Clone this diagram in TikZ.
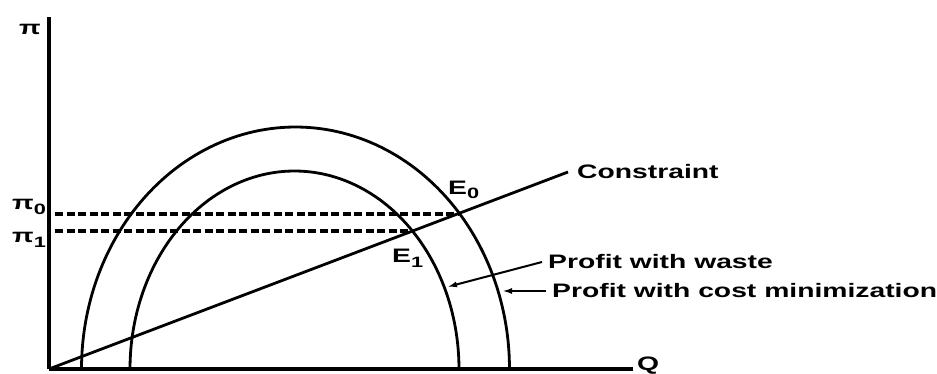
\documentclass[tikz,border=0pt]{standalone}
\usepackage{fontspec}
\setmainfont{Liberation Sans}
\usetikzlibrary{arrows.meta}
\newcommand{\widetext}[1]{\scalebox{1.45}[1]{\bfseries #1}}
\newcommand{\pisub}[1]{π\raisebox{-0.45ex}{\fontsize{15}{15}\selectfont #1}}
\tikzset{
  axis/.style={line width=3.6pt},
  curve/.style={line width=2.8pt},
  dashline/.style={line width=3.2pt, dash pattern=on 8pt off 3.5pt},
  lbl/.style={inner sep=0pt, anchor=west, font=\fontsize{19.5}{20}\selectfont},
  pointer/.style={line width=2pt, -{Latex[length=10pt,width=6pt]}}
}
\begin{document}
\begin{tikzpicture}[x=1pt,y=-1pt]
\useasboundingbox (0,0) rectangle (937,374);
% axes
\coordinate (O) at (49,369);
\coordinate (ytop) at (49,17);
\coordinate (xend) at (633,369);
\draw[axis] (O) -- (ytop);
\draw[axis] (O) -- (xend);
\node[lbl, anchor=center] (pi) at (30,29) {\widetext{π}};
\node[lbl, anchor=center] (Q) at (648,366) {\widetext{Q}};
% curves
\draw[curve] plot[domain=180:0, samples=120] ({295.5+214*cos(\x)}, {369-242*sin(\x)});
\draw[curve] plot[domain=180:0, samples=120] ({294.5+164.5*cos(\x)}, {369-198*sin(\x)});
% intersection points
\coordinate (E0) at (458,214);
\coordinate (E1) at (413,231);
\coordinate (p0) at (55,214);
\coordinate (p1) at (55,231);
\draw[dashline] (p0) -- (E0);
\draw[dashline] (p1) -- (E1);
\node[lbl] (pi0) at (12,207) {\widetext{\pisub{0}}};
\node[lbl] (pi1) at (12,240) {\widetext{\pisub{1}}};
% constraint
\node[lbl] (cons) at (577,172) {\widetext{Constraint}};
\draw[curve] (O) -- ([xshift=-9pt]cons.west);
\node[lbl] (e0) at (448,190) {\widetext{E\raisebox{-0.45ex}{\fontsize{15}{15}\selectfont 0}}};
\node[lbl] (e1) at (392,258) {\widetext{E\raisebox{-0.45ex}{\fontsize{15}{15}\selectfont 1}}};
% labels with arrows
\node[lbl] (waste) at (548,262) {\widetext{Profit with waste}};
\node[lbl] (costmin) at (552,291) {\widetext{Profit with cost minimization}};
\coordinate (tw) at (447,287);
\coordinate (tc) at (502,291);
\draw[pointer] ([xshift=-6pt]waste.west) -- (tw);
\draw[pointer] ([xshift=-6pt]costmin.west) -- (tc);
\end{tikzpicture}
\end{document}
